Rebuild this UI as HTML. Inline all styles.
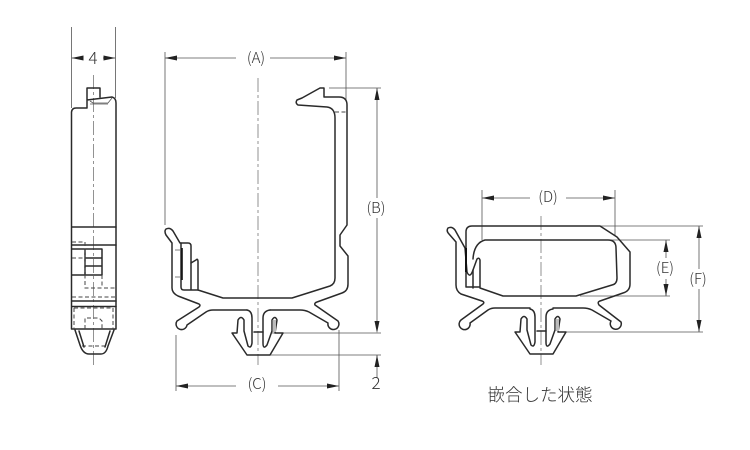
<!DOCTYPE html>
<html><head><meta charset="utf-8"><style>
html,body{margin:0;padding:0;background:#fff}
svg{display:block}
text{font-family:"Noto Sans CJK JP","Liberation Sans",sans-serif;font-weight:300;fill:#333;text-anchor:middle}
.o{fill:none;stroke:#2a2a2a;stroke-width:1.5;stroke-linejoin:round;stroke-linecap:round}
.t{fill:none;stroke:#555;stroke-width:.8}
.d{fill:none;stroke:#444;stroke-width:1;stroke-dasharray:4 2.5}
.c{fill:none;stroke:#777;stroke-width:.8;stroke-dasharray:14 3 3 3}
.a{fill:#222}
</style></head><body>
<svg width="750" height="450" viewBox="0 0 750 450" xmlns="http://www.w3.org/2000/svg">
<defs>
<g id="clip">
<path class="o" d="M247 310Q252 311 252 318L252 343Q251 349 248 346L244 331L244 320Q241 315 238 320L237 333L232 333L247 355L270 355L283 333L275 333L277 320Q275 315 272 320L272 331L267 345Q263 350 263 343L263 318Q263 311 270 310"/>
<path class="o" d="M254 332L263 332" stroke-width="1.2"/>
<path d="M272.500 320h3.500v12h-3.500z" fill="#bbb"/>
</g>
</defs>

<!-- Left view -->
<path class="t" d="M71.500 27V108M115.500 27V98M71.500 58H83M103 58H115.500"/>
<path class="a" d="M71.500 58l12-2.500v5zM115.500 58l-12-2.500v5z"/>
<text x="93" y="64" font-size="17">4</text>
<path class="c" d="M93.500 75V365"/>
<path class="o" d="M87 107V88H100V97M87 100L112 97Q116 98 116 103V329H71.500V112Q72 108 76 108H87Z" stroke-width="1.4"/>
<path class="t" d="M90 101L93 103H108L112 98M90 104H108"/>
<path class="o" stroke-width="1.1" d="M72 227H116M72 245H116M72 301H116M72 306.500H116"/>
<path class="o" stroke-width="1.3" d="M72 249H102V275H72M85 249V275M85 258H102M85 266H102"/>
<path class="d" d="M72 242H85V288H115M72 258H85M102 275V288M72 297H116M74 308H113M74 308V329M113 308V329M85 329V318H99L102 321V329M82 346H106"/>
<path class="o" stroke-width="1.3" d="M75 330L80 345Q83 354 89 354H101Q106 354 108 346L114 330M79 331L84 347M110 331L105 347"/>

<!-- Main view -->
<path class="t" d="M165 52V225M346 52V100M165 58H236M270 58H346M329 88H381M272 333H381M270 355H381M377 88V198M377 218V331M377 355V378M176 335V391M339 330V391M176 386H236M278 386H339"/>
<path class="a" d="M165 58l12-2.500v5zM346 58l-12-2.500v5zM377 88l-2.500 12h5zM377 333l-2.500-12h5zM377 355l-2.500 12h5zM176 386l12-2.500v5zM339 386l-12-2.500v5z"/>
<text x="256" y="63" font-size="15">(A)</text>
<text x="376" y="213" font-size="15">(B)</text>
<text x="257" y="389" font-size="15">(C)</text>
<text x="376" y="389" font-size="17">2</text>
<path class="c" d="M258 78V365"/>
<path class="o" d="M172 243V288Q172 293 178 296L199 304Q201 305 199 307L177 321A5.500 5.500 0 1 0 187 325L206 312Q209 310 213 310H247M270 310H300Q305 310 309 312L328 323A5.500 5.500 0 1 0 338 321L315 305Q314 303 317 302L342 293Q348 291 348 284V256L340 246V235L347 225V105Q347 97 339 97H324V88H320L302 98L297 100Q295 103 298 105L327 107Q335 108 335 118V278Q335 284 330 286L292 298H223L198 290V262Q198 258 196 260L191 263V246Q191 243 188 243H180L173 231Q170 227 166 229Q164 231 166 235L172 243"/>
<path class="o" d="M181 243V287Q181 290 184 290H198M191 263V290"/>
<path d="M182 248V280" stroke="#111" stroke-width="1.600" fill="none"/>
<path class="t" d="M175 250H180M175 277H180"/>
<path class="d" d="M335 112H347" stroke-width=".9"/>
<use href="#clip"/>

<!-- Right view -->
<path class="t" d="M482 190V240M615 190V235M482 198H530M566 198H615M610 240H670M580 296H670M600 226H703M566 332H703M666 240V258M666 279V296M699 226V269M699 289V332"/>
<path class="a" d="M482 198l12-2.500v5zM615 198l-12-2.500v5zM666 240l-2.500 12h5zM666 296l-2.500-12h5zM699 226l-2.500 12h5zM699 332l-2.500-12h5z"/>
<text x="548" y="202" font-size="15">(D)</text>
<text x="665" y="273" font-size="15">(E)</text>
<text x="698" y="284" font-size="15">(F)</text>
<path class="c" d="M541 216V365"/>
<path class="o" d="M456 242V285Q456 291 461 294L482 301Q485 302 483 304L461 320A5.500 5.500 0 1 0 470 323L488 310Q491 308 495 308H530M553 308H583Q588 308 592 310L611 321A5.500 5.500 0 1 0 621 322L599 305Q597 302 600 301L623 293Q630 291 630 284V252L617 237L600 226H472Q466 226 466 232V287H480V260Q479 257 477 259L473 270Q470 279 467 272L465 248L455 230Q452 226 448 228Q446 231 449 234L456 242"/>
<path class="o" d="M473 259Q474 243 485 240H608Q616 240 616 248L617 278Q617 284 612 285L576 296H503L480 288"/>
<path d="M466 248V272" stroke="#111" stroke-width="2" fill="none"/>
<path class="o" d="M473 270V288"/>
<use href="#clip" transform="translate(283,-1)"/>
<text x="540" y="401" font-size="17.500">嵌合した状態</text>
</svg>
</body></html>
